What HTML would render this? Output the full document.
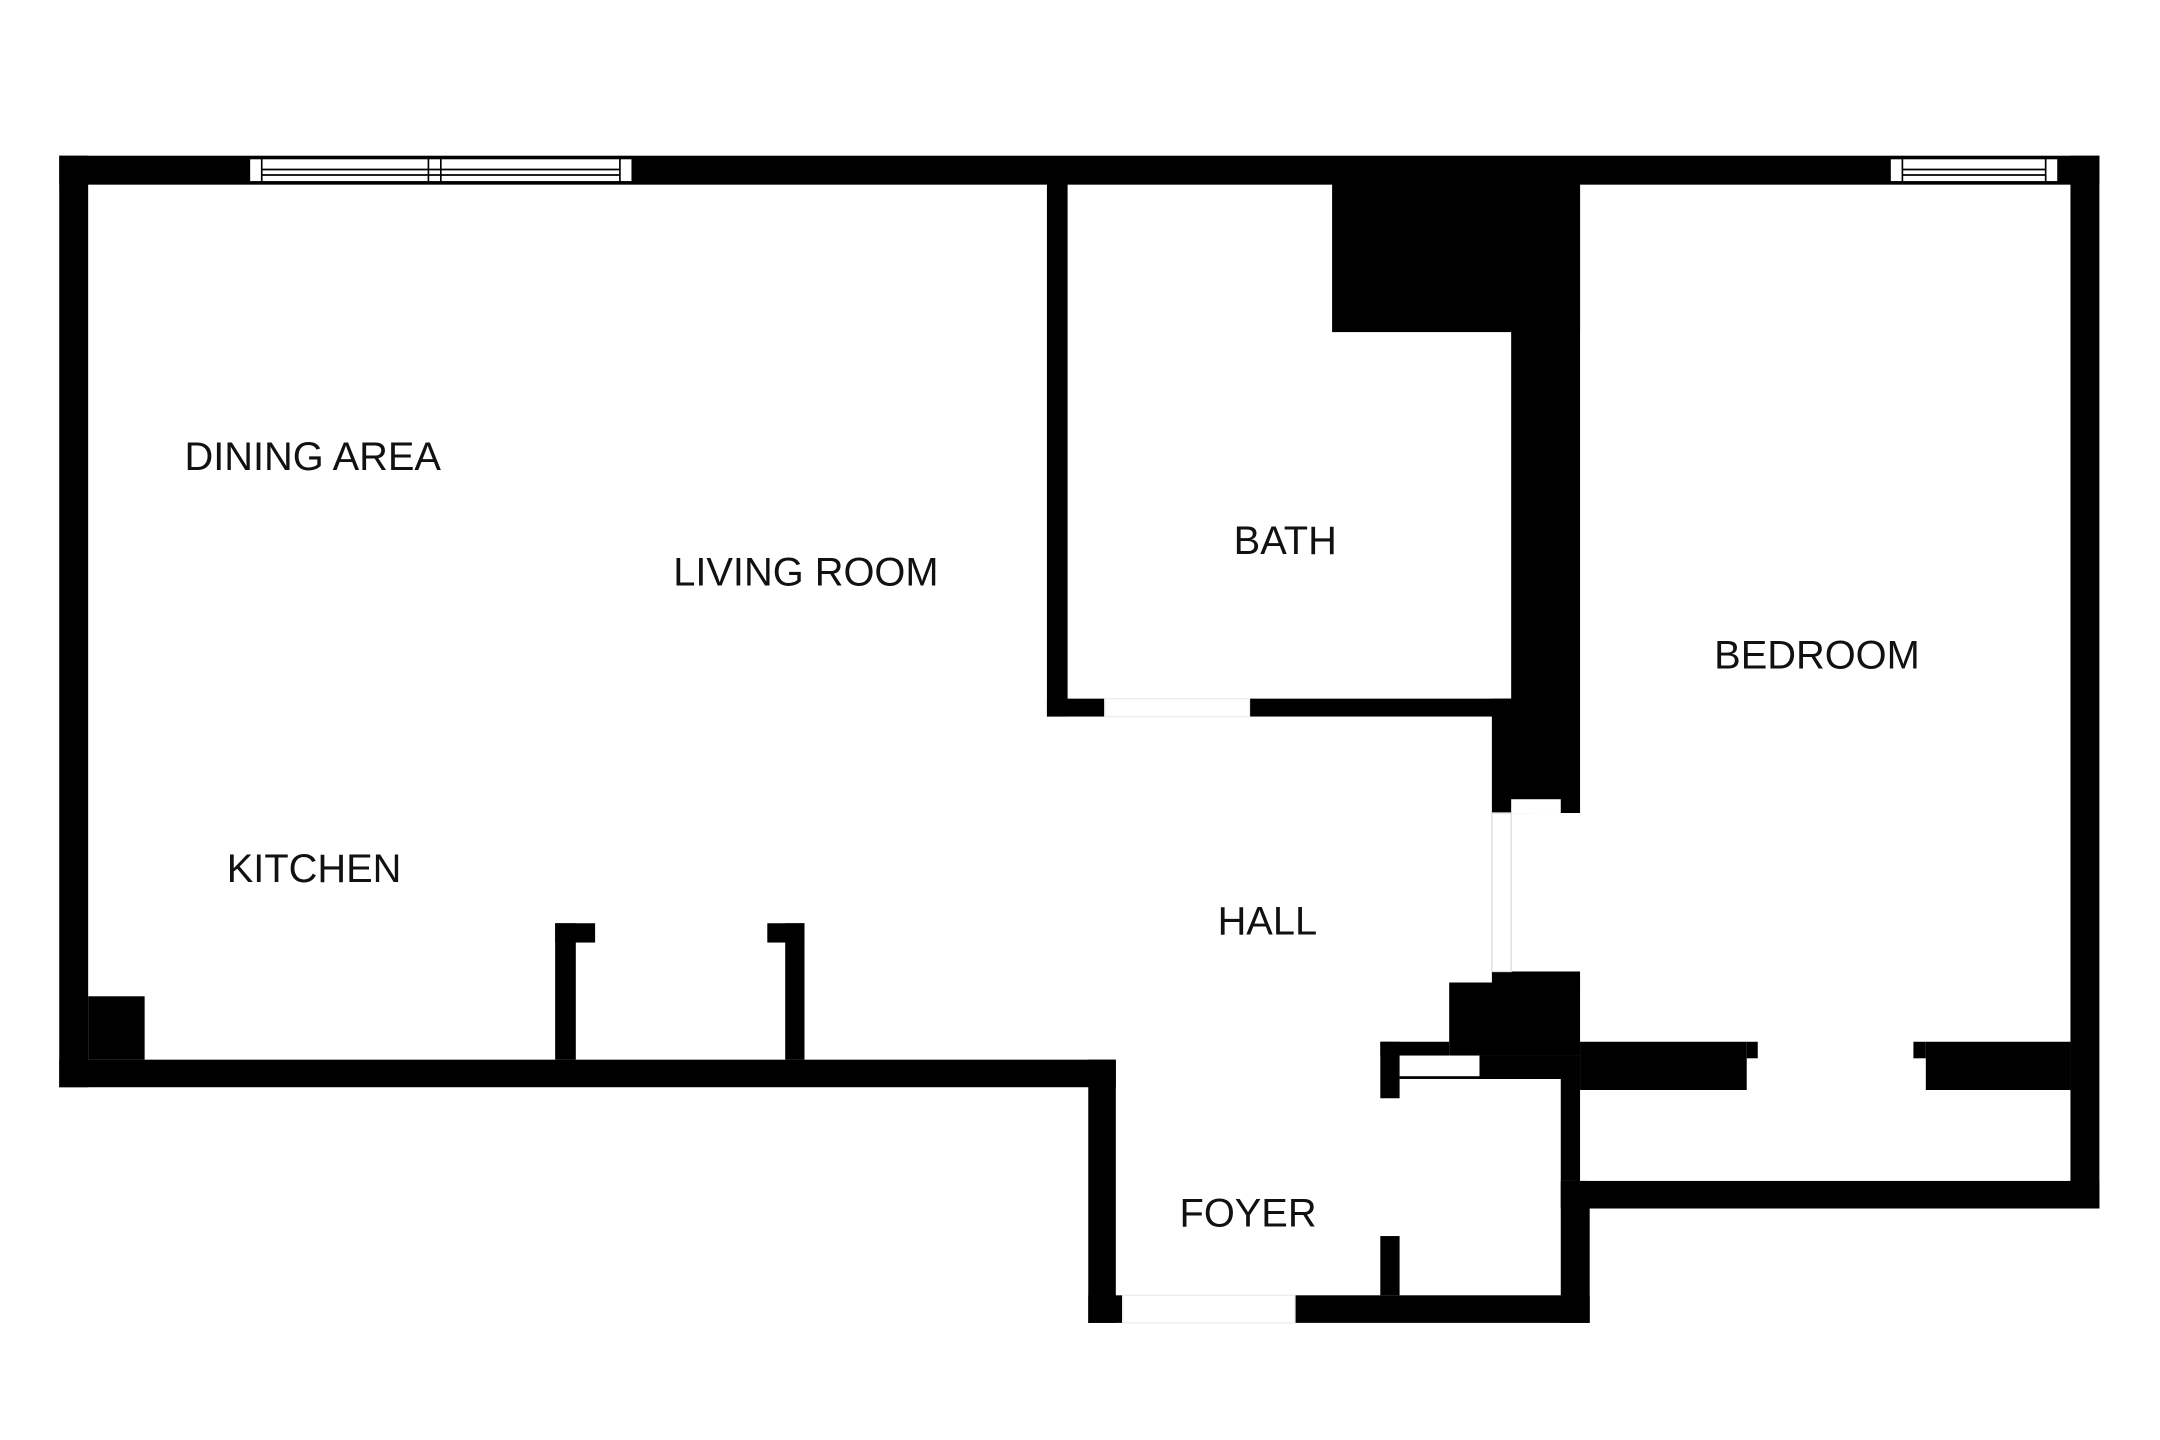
<!DOCTYPE html>
<html><head><meta charset="utf-8"><style>
html,body{margin:0;padding:0;background:#fff;}
svg{display:block;}
text{font-family:"Liberation Sans",Arial,sans-serif;font-size:28.9px;fill:#111;}
</style></head><body>
<svg width="2160" height="1440" viewBox="0 0 1568 1045" preserveAspectRatio="none" xmlns="http://www.w3.org/2000/svg">
<rect width="1568" height="1045" fill="#fff"/>
<g fill="#000">
<rect x="43" y="113" width="1481" height="21"/>
<rect x="43" y="113" width="21" height="676"/>
<rect x="1503" y="113" width="21" height="764"/>
<rect x="43" y="769" width="767" height="20"/>
<rect x="64" y="723" width="41" height="46"/>
<rect x="403" y="670" width="15" height="99"/>
<rect x="403" y="670" width="29" height="14"/>
<rect x="570" y="670" width="14" height="99"/>
<rect x="557" y="670" width="27" height="14"/>
<rect x="790" y="769" width="20" height="191"/>
<rect x="790" y="940" width="25" height="20"/>
<rect x="940" y="940" width="214" height="20"/>
<rect x="1002" y="756" width="14" height="41"/>
<rect x="1002" y="897" width="14" height="43"/>
<rect x="1002" y="756" width="50" height="10"/>
<rect x="1016" y="781" width="131" height="2"/>
<rect x="1074" y="766" width="73" height="17"/>
<rect x="1052" y="713" width="95" height="53"/>
<rect x="1133" y="783" width="14" height="74"/>
<rect x="1133" y="857" width="21" height="103"/>
<rect x="1133" y="857" width="391" height="20"/>
<rect x="1147" y="756" width="121" height="35"/>
<rect x="1268" y="756" width="8" height="12"/>
<rect x="1389" y="756" width="9" height="12"/>
<rect x="1398" y="756" width="105" height="35"/>
<rect x="760" y="133" width="15" height="387"/>
<rect x="760" y="507" width="42" height="13"/>
<rect x="907" y="507" width="190" height="13"/>
<rect x="967" y="133" width="180" height="108"/>
<rect x="1097" y="133" width="50" height="457"/>
<rect x="1083" y="507" width="30" height="83"/>
<rect x="1083" y="705" width="64" height="10"/>
</g>
<rect x="1097" y="580" width="36" height="10" fill="#fff"/>
<rect x="1083" y="590" width="14" height="115" fill="#fff" stroke="#ddd" stroke-width="1"/>
<rect x="802" y="507" width="105" height="13" fill="#fff" stroke="#eee" stroke-width="1"/>
<rect x="815" y="940" width="125" height="20" fill="#fff" stroke="#eee" stroke-width="1"/>
<g fill="#fff" stroke="#000" stroke-width="1.2">
<rect x="181" y="115" width="278" height="17"/>
<line x1="190" y1="115" x2="190" y2="132"/>
<line x1="450" y1="115" x2="450" y2="132"/>
<line x1="311" y1="115" x2="311" y2="132"/>
<line x1="320" y1="115" x2="320" y2="132"/>
<line x1="190" y1="123" x2="450" y2="123"/>
<line x1="190" y1="127" x2="450" y2="127"/>
<rect x="1372" y="115" width="122" height="17"/>
<line x1="1381" y1="115" x2="1381" y2="132"/>
<line x1="1485" y1="115" x2="1485" y2="132"/>
<line x1="1381" y1="123" x2="1485" y2="123"/>
<line x1="1381" y1="127" x2="1485" y2="127"/>
</g>
<text x="227" y="341" text-anchor="middle">DINING AREA</text>
<text x="585" y="425" text-anchor="middle">LIVING ROOM</text>
<text x="933" y="402" text-anchor="middle">BATH</text>
<text x="1319" y="485" text-anchor="middle">BEDROOM</text>
<text x="228" y="640" text-anchor="middle">KITCHEN</text>
<text x="920" y="678" text-anchor="middle">HALL</text>
<text x="906" y="890" text-anchor="middle">FOYER</text>
</svg>
</body></html>
